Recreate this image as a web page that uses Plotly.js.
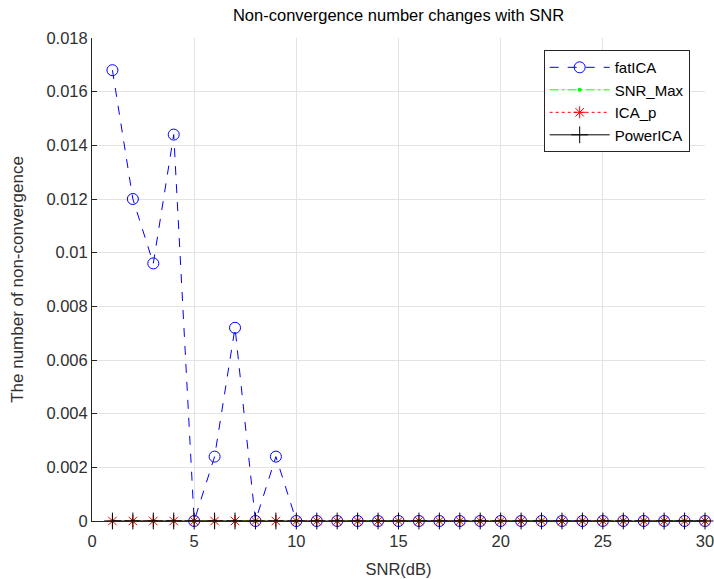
<!DOCTYPE html>
<html>
<head>
<meta charset="utf-8">
<script src="https://cdn.plot.ly/plotly-3.0.1.min.js"></script>
<style>html,body{margin:0;padding:0;background:#fff;}#chart{width:714px;height:579px;}</style>
</head>
<body>
<div id="chart"></div>
<script>
const snr = [1,2,3,4,5,6,7,8,9,10,11,12,13,14,15,16,17,18,19,20,21,22,23,24,25,26,27,28,29,30];
const fatICA = [0.0168,0.012,0.0096,0.0144,0,0.0024,0.0072,0,0.0024,0,0,0,0,0,0,0,0,0,0,0,0,0,0,0,0,0,0,0,0,0];
const snrMax = [0,0,0,0,0,0,0,0,0,0,0,0,0,0,0,0,0,0,0,0,0,0,0,0,0,0,0,0,0,0];
const icaP = [0,0,0,0,0,0,0,0,0,0,0,0,0,0,0,0,0,0,0,0,0,0,0,0,0,0,0,0,0,0];
const powerICA = [0,0,0,0,0,0,0,0,0,0,0,0,0,0,0,0,0,0,0,0,0,0,0,0,0,0,0,0,0,0];
const yTickVals = [0,0.002,0.004,0.006,0.008,0.01,0.012,0.014,0.016,0.018];
const yTickText = ['0','0.002','0.004','0.006','0.008','0.01','0.012','0.014','0.016','0.018'];
const xTickVals = [0,5,10,15,20,25,30];

const font = 'Liberation Sans, Arial, sans-serif';
const traces = [
  {x: snr, y: fatICA, name: 'fatICA', mode: 'lines+markers', cliponaxis: false,
   line: {color: '#0000ff', dash: 'dash', width: 1},
   marker: {symbol: 'circle-open', size: 11, color: '#0000ff', line: {width: 1, color: '#0000ff'}}},
  {x: snr, y: snrMax, name: 'SNR_Max', mode: 'lines+markers', cliponaxis: false,
   line: {color: '#00ff00', dash: 'dashdot', width: 1},
   marker: {symbol: 'circle', size: 4, color: '#00ff00'}},
  {x: snr, y: icaP, name: 'ICA_p', mode: 'lines+markers', cliponaxis: false,
   line: {color: '#ff0000', dash: 'dot', width: 1},
   marker: {symbol: 'asterisk-open', size: 10, color: '#ff0000', line: {width: 1, color: '#ff0000'}}},
  {x: snr, y: powerICA, name: 'PowerICA', mode: 'lines+markers', cliponaxis: false,
   line: {color: '#000000', width: 1},
   marker: {symbol: 'cross-thin-open', size: 12, color: '#000000', line: {width: 1, color: '#000000'}}}
];
const layout = {
  width: 714, height: 579,
  margin: {l: 92, r: 9, t: 38, b: 58},
  paper_bgcolor: '#ffffff', plot_bgcolor: '#ffffff',
  font: {family: font, size: 16, color: '#262626'},
  title: {text: 'Non-convergence number changes with SNR', font: {family: font, size: 16.5, color: '#000000'},
          x: 0.5, xref: 'paper', y: 1, yref: 'container', yanchor: 'top', pad: {t: 9}},
  xaxis: {range: [0, 30], tickvals: xTickVals, ticks: 'inside', ticklen: 5, tickcolor: '#262626',
          showline: true, linecolor: '#262626', linewidth: 1, mirror: false,
          showgrid: true, gridcolor: '#e3e3e3', zeroline: false,
          ticklabelstandoff: 5, ticklabeloverflow: 'allow',
          tickfont: {size: 16.5, color: '#303030'},
          title: {text: 'SNR(dB)', font: {size: 16.5, color: '#303030'}, standoff: 14}},
  yaxis: {range: [0, 0.018], tickvals: yTickVals, ticktext: yTickText, ticks: 'inside', ticklen: 5, tickcolor: '#262626',
          showline: true, linecolor: '#262626', linewidth: 1, mirror: false,
          showgrid: true, gridcolor: '#e3e3e3', zeroline: false,
          ticklabeloverflow: 'allow',
          tickfont: {size: 16.5, color: '#303030'},
          title: {text: 'The number of non-convergence', font: {size: 17, color: '#303030'}, standoff: 18}},
  legend: {x: 0.975, xanchor: 'right', y: 0.975, yanchor: 'top', bgcolor: '#ffffff',
           bordercolor: '#262626', borderwidth: 1, font: {size: 15, color: '#000000'},
           itemwidth: 60, tracegroupgap: 0},
  showlegend: true
};
Plotly.newPlot('chart', traces, layout, {displayModeBar: false, staticPlot: true});
</script>
</body>
</html>
